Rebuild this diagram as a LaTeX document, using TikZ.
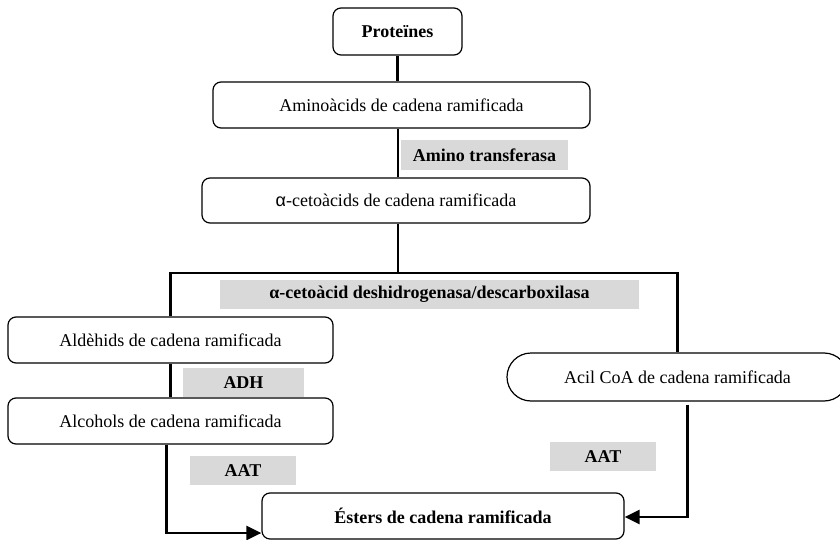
\documentclass[tikz,border=0pt]{standalone}
\usepackage{fontspec}
\setmainfont{Liberation Serif}
\newfontfamily\alphafont{Liberation Sans}
\usetikzlibrary{arrows.meta,calc}
\definecolor{labgray}{RGB}{217,217,217}
\tikzset{
  box/.style={draw=black,line width=1.2pt,rounded corners=8pt,align=center,inner sep=0pt,font=\fontsize{18}{20}\selectfont},
  lab/.style={fill=labgray,inner sep=0pt,font=\fontsize{18}{20}\selectfont\bfseries},
  conn/.style={line width=2.6pt},
  arr/.style={line width=2.6pt,-{Triangle[length=15pt,width=14pt]}}
}
\begin{document}
\begin{tikzpicture}[x=1pt,y=-1pt]
\useasboundingbox (0,0) rectangle (840,540);
% boxes
\node[box,minimum width=129pt,minimum height=47pt,font=\fontsize{18}{20}\selectfont\bfseries] (prot) at (397.5,31.5) {Proteïnes};
\node[box,minimum width=377pt,minimum height=46pt] (amino) at (401.5,105) {Aminoàcids de cadena ramificada};
\node[box,minimum width=388pt,minimum height=45pt] (ceto) at (396,200.5) {{\alphafont α}-cetoàcids de cadena ramificada};
\node[box,minimum width=325pt,minimum height=46pt] (ald) at (170.5,340) {Aldèhids de cadena ramificada};
\node[box,minimum width=325pt,minimum height=46pt] (alc) at (170.5,421) {Alcohols de cadena ramificada};
\node[box,minimum width=341pt,minimum height=48pt,rounded corners=24pt] (acil) at (677.5,377) {Acil CoA de cadena ramificada};
\node[box,minimum width=362pt,minimum height=46pt,font=\fontsize{18}{20}\selectfont\bfseries] (ester) at (443,516) {Ésters de cadena ramificada};
% labels
\node[lab,minimum width=167pt,minimum height=30pt] (l1) at (484.5,155) {Amino transferasa};
\node[lab,minimum width=419pt,minimum height=29pt] (l2) at (429.5,294.5) {α-cetoàcid deshidrogenasa/descarboxilasa};
\node[lab,minimum width=121pt,minimum height=29pt] (l3) at (243.5,382.5) {ADH};
\node[lab,minimum width=106pt,minimum height=29pt] (l4) at (243,470.5) {AAT};
\node[lab,minimum width=106pt,minimum height=29pt] (l5) at (603,456.5) {AAT};
% connectors
\coordinate (br) at (398,273);
\draw[conn] (prot.south) -- (prot.south |- amino.north);
\draw[conn] (br |- amino.south) -- (br |- ceto.north);
\draw[conn] (br |- ceto.south) -- (br);
\draw[conn] (ald.north) |- (br) -| (acil.north);
\draw[conn] (ald.south) -- (alc.north);
\draw[arr] ($(alc.south)+(-4,0)$) |- ($(ester.west)+(0,17)$);
\draw[arr] ($(acil.south)+(10,3)$) |- ($(ester.east)+(0,1)$);
\end{tikzpicture}
\end{document}
